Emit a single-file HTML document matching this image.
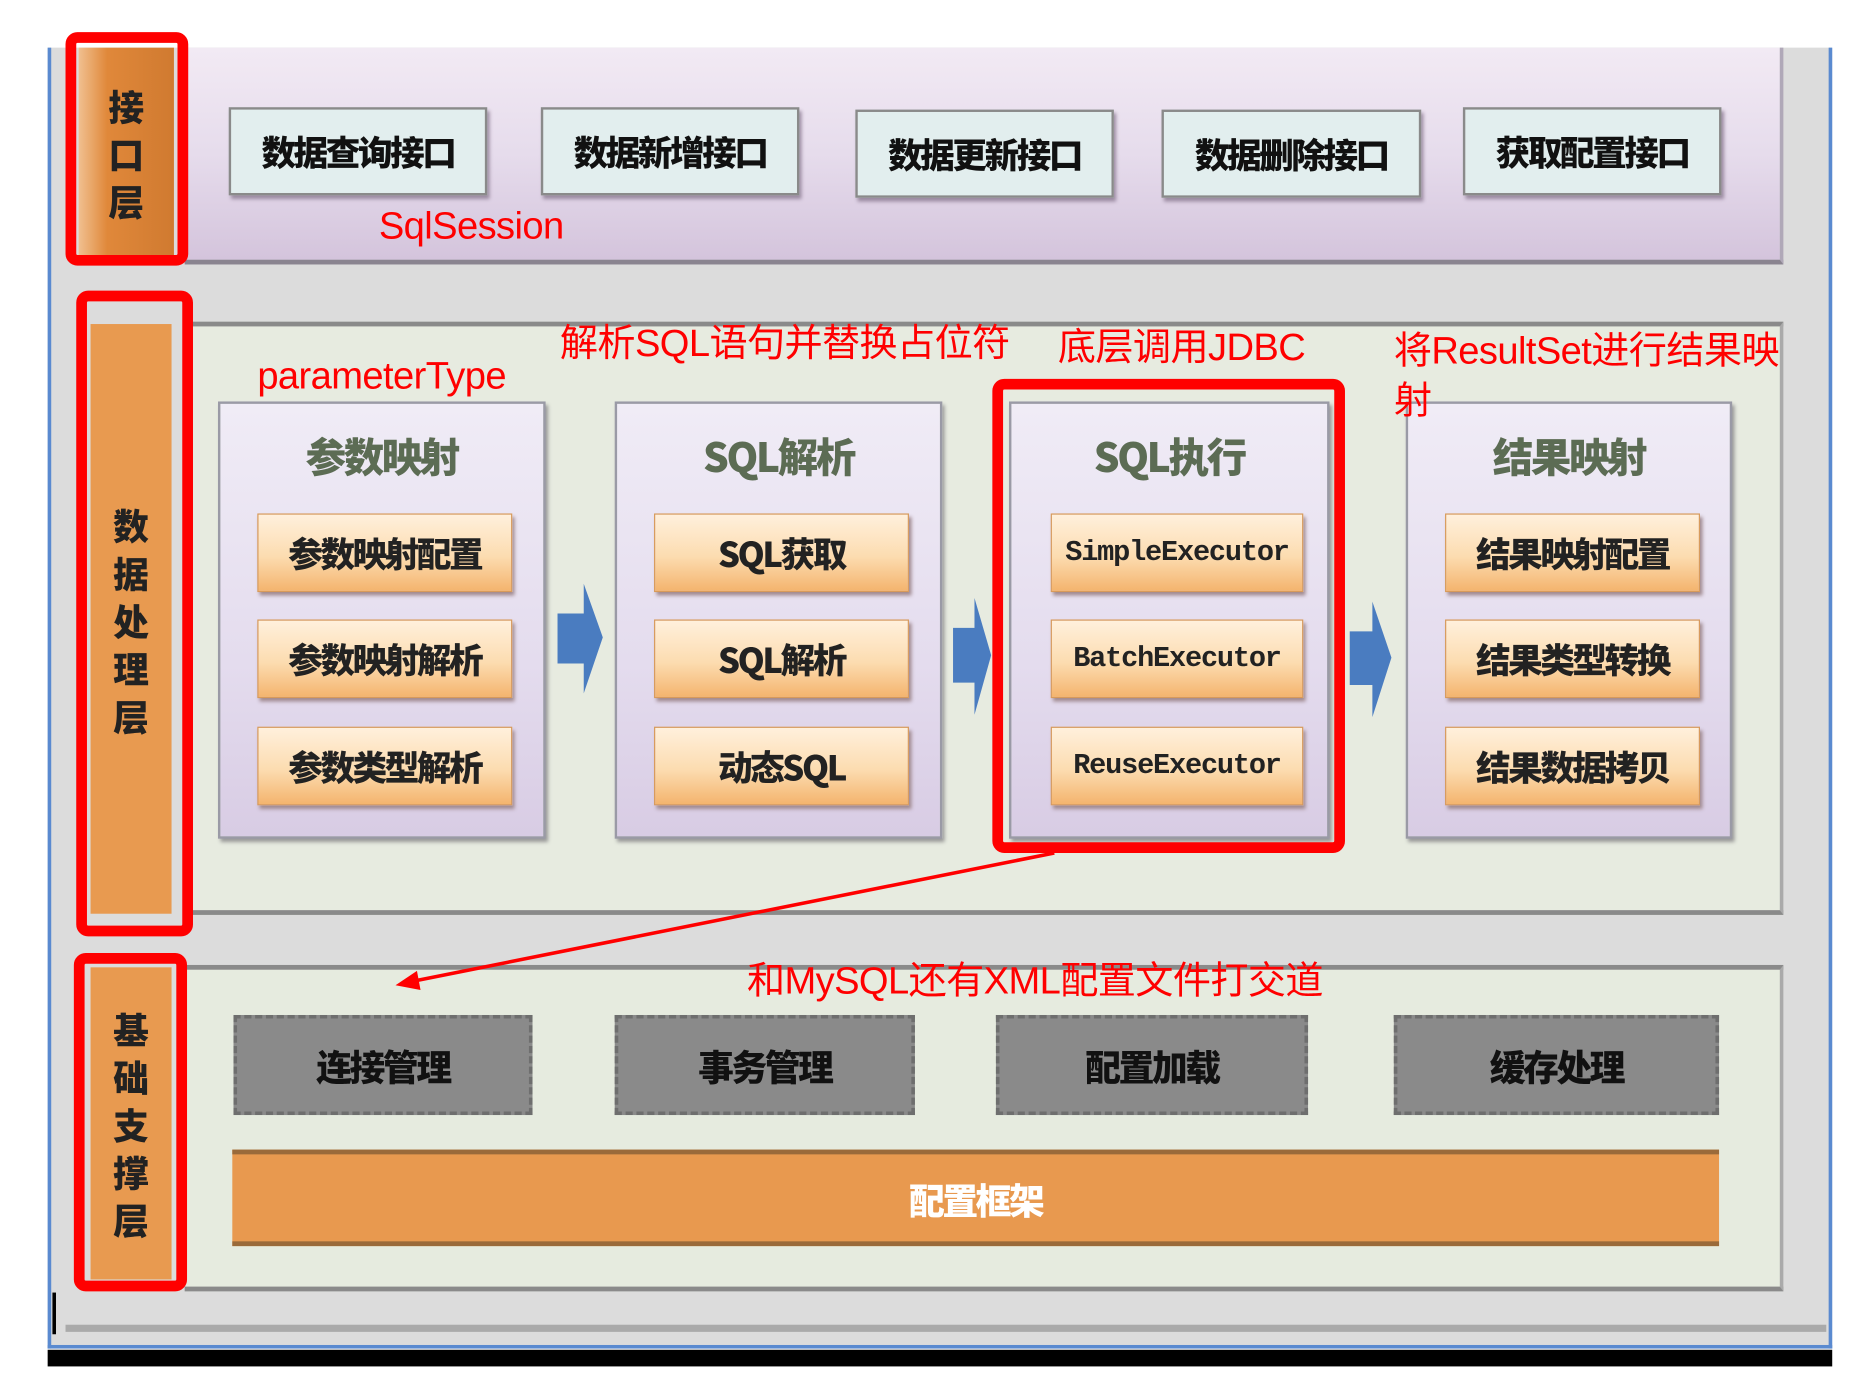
<!DOCTYPE html>
<html><head><meta charset="utf-8"><style>
html,body{margin:0;padding:0;background:#fff;width:1868px;height:1392px;overflow:hidden}
#s{position:absolute;left:0;top:0;width:1568px;height:1169px;transform:scale(1.1913);transform-origin:0 0;font-family:"Liberation Sans","Noto Sans CJK SC",sans-serif}
.a{position:absolute;box-sizing:border-box}
.cn{font-family:"Noto Sans CJK SC","WenQuanYi Zen Hei",sans-serif;font-weight:900}
.btn{background:#e2eeee;border:2px solid #8a8a8a;box-shadow:2px 3px 3px #9a8aa0;display:flex;align-items:center;justify-content:center;font-size:29px;color:#111;letter-spacing:-2px}
.sub{background:linear-gradient(#f0ecf6,#e4dcee 60%,#d8cce4);border:2px solid #9a9aa6;box-shadow:2px 3px 3px #999}
.ttl{position:absolute;left:0;right:0;top:18px;text-align:center;font-size:34px;color:#5c6c54;letter-spacing:-2px}
.ob{position:absolute;left:31px;width:212px;height:64px;background:linear-gradient(#fff0dc,#fcdcb0 55%,#f4b46e);border:1px solid #d89a5a;box-shadow:2px 3px 3px #a08a90;display:flex;align-items:center;justify-content:center;font-size:29px;color:#222;letter-spacing:-2px}
.mono{font-family:"Liberation Mono",monospace;font-weight:bold;font-size:24px;letter-spacing:-1px}
.red{color:#f00;font-size:32px;position:absolute;white-space:nowrap;font-family:"Liberation Sans","Noto Sans CJK SC",sans-serif;letter-spacing:-0.5px}
.rb{position:absolute;box-sizing:border-box;border:9px solid #f00;border-radius:10px}
.gb{background:#8a8a8a;border:3px dashed #6e6e6e;display:flex;align-items:center;justify-content:center;font-size:30px;color:#111;letter-spacing:-2px}
.lab{background:linear-gradient(90deg,#f0c090,#e0883a 30%,#d07a30);display:flex;flex-direction:column;align-items:center;justify-content:center;font-size:30px;color:#222;line-height:40px}
</style></head><body><div id="s">
<div class="a" style="left:40px;top:40px;width:1498px;height:1092px;background:#dcdcdc;border-left:3px solid #5a8ad0;border-right:3px solid #5a8ad0;border-bottom:3px solid #5a8ad0"></div>
<div class="a" style="left:40px;top:1133px;width:1498px;height:14px;background:#000"></div>
<div class="a" style="left:44px;top:1085px;width:3px;height:35px;background:#000"></div>
<div class="a" style="left:55px;top:1112px;width:1478px;height:6px;background:#aaa"></div>

<div class="a" style="left:155px;top:40px;width:1342px;height:182px;background:linear-gradient(#f2eaf4,#e6dcec 50%,#d4c4dc);border-bottom:4px solid #8a8490;border-right:3px solid #b0a8b8"></div>
<div class="a lab cn" style="left:66px;top:40px;width:80px;height:175px">接<br>口<br>层</div>
<div class="rb" style="left:55px;top:27px;width:103px;height:196px"></div>
<div class="a btn cn" style="left:192px;top:90px;width:217px;height:74px">数据查询接口</div>
<div class="a btn cn" style="left:454px;top:90px;width:217px;height:74px">数据新增接口</div>
<div class="a btn cn" style="left:718px;top:92px;width:217px;height:74px">数据更新接口</div>
<div class="a btn cn" style="left:975px;top:92px;width:218px;height:74px">数据删除接口</div>
<div class="a btn cn" style="left:1228px;top:90px;width:217px;height:74px">获取配置接口</div>
<div class="red" style="left:318px;top:171px">SqlSession</div>

<div class="a" style="left:155px;top:270px;width:1342px;height:498px;background:#e7ebe0;border-top:4px solid #8a8a8a;border-bottom:4px solid #8a8a8a;border-right:3px solid #aaa"></div>
<div class="a lab cn" style="left:76px;top:272px;width:68px;height:495px;background:#e89a50">数<br>据<br>处<br>理<br>层</div>
<div class="rb" style="left:64px;top:244px;width:98px;height:542px"></div>

<div class="a sub" style="left:183px;top:337px;width:275px;height:367px">
 <div class="ttl cn">参数映射</div>
 <div class="ob cn" style="top:92px">参数映射配置</div>
 <div class="ob cn" style="top:181px">参数映射解析</div>
 <div class="ob cn" style="top:271px">参数类型解析</div>
</div>
<div class="a sub" style="left:516px;top:337px;width:275px;height:367px">
 <div class="ttl cn">SQL解析</div>
 <div class="ob cn" style="top:92px">SQL获取</div>
 <div class="ob cn" style="top:181px">SQL解析</div>
 <div class="ob cn" style="top:271px">动态SQL</div>
</div>
<div class="a sub" style="left:847px;top:337px;width:269px;height:367px">
 <div class="ttl cn">SQL执行</div>
 <div class="ob mono" style="top:92px;left:33px;width:210px">SimpleExecutor</div>
 <div class="ob mono" style="top:181px;left:33px;width:210px">BatchExecutor</div>
 <div class="ob mono" style="top:271px;left:33px;width:210px">ReuseExecutor</div>
</div>
<div class="a sub" style="left:1180px;top:337px;width:274px;height:367px">
 <div class="ttl cn">结果映射</div>
 <div class="ob cn" style="top:92px">结果映射配置</div>
 <div class="ob cn" style="top:181px">结果类型转换</div>
 <div class="ob cn" style="top:271px">结果数据拷贝</div>
</div>
<div class="rb" style="left:833px;top:318px;width:296px;height:398px"></div>

<div class="red" style="left:216px;top:297px">parameterType</div>
<div class="red" style="left:470px;top:263px">解析SQL语句并替换占位符</div>
<div class="red" style="left:888px;top:266px">底层调用JDBC</div>
<div class="red" style="left:1170px;top:269px">将ResultSet进行结果映</div>
<div class="red" style="left:1170px;top:311px">射</div>

<div class="a" style="left:155px;top:810px;width:1342px;height:274px;background:#e6ebdf;border-top:4px solid #8a8a8a;border-bottom:4px solid #8a8a8a;border-right:3px solid #aaa"></div>
<div class="a lab cn" style="left:76px;top:812px;width:68px;height:262px;background:#e89a50">基<br>础<br>支<br>撑<br>层</div>
<div class="rb" style="left:62px;top:800px;width:95px;height:284px"></div>
<div class="red" style="left:627px;top:798px">和MySQL还有XML配置文件打交道</div>
<div class="a gb cn" style="left:196px;top:852px;width:251px;height:84px">连接管理</div>
<div class="a gb cn" style="left:516px;top:852px;width:252px;height:84px">事务管理</div>
<div class="a gb cn" style="left:836px;top:852px;width:262px;height:84px">配置加载</div>
<div class="a gb cn" style="left:1170px;top:852px;width:273px;height:84px">缓存处理</div>
<div class="a cn" style="left:195px;top:965px;width:1248px;height:81px;background:#e8994f;border-top:4px solid #9a6a3a;border-bottom:4px solid #9a6a3a;display:flex;align-items:center;justify-content:center;color:#fff;font-size:30px;letter-spacing:-2px">配置框架</div>

<svg class="a" style="left:0;top:0" width="1568" height="1169">
 <polygon points="468,515 490,515 490,490 506,535 490,582 490,557 468,557" fill="#4a7cc0"/>
 <polygon points="800,527 818,527 818,502 832,550 818,600 818,573 800,573" fill="#4a7cc0"/>
 <polygon points="1133,530 1152,530 1152,505 1168,552 1152,602 1152,575 1133,575" fill="#4a7cc0"/>
 <line x1="885" y1="716" x2="345" y2="824" stroke="#f00" stroke-width="3"/>
 <polygon points="332,827 350,815 353,831" fill="#f00"/>
</svg>
</div></body></html>
